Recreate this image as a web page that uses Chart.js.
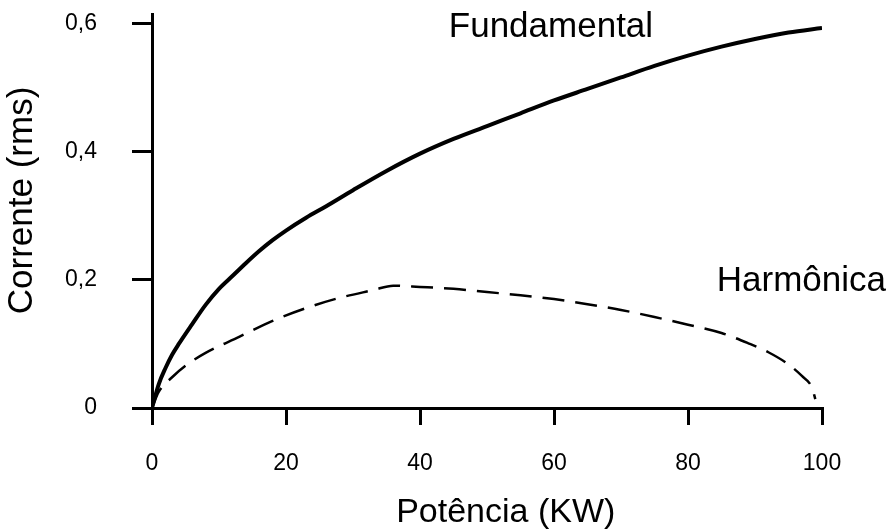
<!DOCTYPE html>
<html>
<head>
<meta charset="utf-8">
<script src="https://cdn.jsdelivr.net/npm/chart.js@4.4.1/dist/chart.umd.min.js"></script>
<style>
  html, body { margin: 0; padding: 0; background: #fff; }
  #wrap { width: 892px; height: 531px; }
</style>
</head>
<body>
<div id="wrap"><canvas id="grafico" width="892" height="531"></canvas></div>
<script>
// potencia (KW) e corrente (rms)
const fundX = [0, 1, 2, 3, 4, 6, 8, 10, 12, 14, 16, 18, 20, 23, 26, 30, 35, 40, 45, 50, 55, 60, 65, 70, 75, 80, 85, 90, 95, 100]
const fundY = [0, 0.037, 0.062, 0.083, 0.1, 0.131, 0.161, 0.186, 0.206, 0.226, 0.245, 0.262, 0.277, 0.297, 0.315, 0.34, 0.37, 0.397, 0.42, 0.44, 0.46, 0.48, 0.498, 0.516, 0.534, 0.55, 0.564, 0.576, 0.586, 0.593]

const harmX = [0, 1, 3, 5, 8, 13, 18, 23, 28, 33, 36, 40, 45, 50, 55, 60, 65, 70, 75, 80, 85, 89, 92, 95, 97, 98.5, 99]
const harmY = [0, 0.025, 0.048, 0.066, 0.086, 0.111, 0.136, 0.156, 0.172, 0.184, 0.191, 0.189, 0.186, 0.181, 0.176, 0.17, 0.162, 0.153, 0.142, 0.13, 0.117, 0.101, 0.087, 0.068, 0.05, 0.032, 0.014]

const xTicks = [0, 20, 40, 60, 80, 100]
const yTicks = [0, 0.2, 0.4, 0.6]

// rotulos das curvas, em coordenadas de dados
const rotulos = [
    { text: 'Fundamental', x: 44.3, y: 0.594 },
    { text: 'Harmônica', x: 84.3, y: 0.197 }
]
const tituloX = 'Potência (KW)'
const tituloXpos = 52.8
const tituloY = 'Corrente (rms)'
const tituloYpos = 0.324

const FONTE = "'Liberation Sans', Arial, sans-serif"

function pontos(xs, ys) {
    return xs.map((x, i) => ({ x: x, y: ys[i] }))
}

const rotulosPlugin = {
    id: 'rotulos',
    afterDatasetsDraw(chart) {
        const ctx = chart.ctx
        const sx = chart.scales.x, sy = chart.scales.y
        ctx.save()
        ctx.fillStyle = '#000'
        ctx.font = `35px ${FONTE}`
        ctx.textAlign = 'left'
        ctx.textBaseline = 'middle'
        rotulos.forEach(r => {
            ctx.fillText(r.text, sx.getPixelForValue(r.x), sy.getPixelForValue(r.y))
        })
        // titulos dos eixos (desenhados a mao pra acertar a posicao do original)
        ctx.font = `34px ${FONTE}`
        ctx.textAlign = 'center'
        ctx.textBaseline = 'alphabetic'
        ctx.fillText(tituloX, sx.getPixelForValue(tituloXpos), sx.bottom - 9)

        ctx.translate(sy.left + 22, sy.getPixelForValue(tituloYpos))
        ctx.rotate(-Math.PI / 2)
        ctx.font = `35px ${FONTE}`
        ctx.textBaseline = 'middle'
        ctx.fillText(tituloY, 0, 0)
        ctx.restore()
    }
}

const config = {
    type: 'scatter',
    data: {
        datasets: [{
            label: 'Fundamental',
            data: pontos(fundX, fundY),
            showLine: true,
            borderColor: '#000',
            borderWidth: 4,
            pointRadius: 0,
            cubicInterpolationMode: 'monotone'
        }, {
            label: 'Harmônica',
            data: pontos(harmX, harmY),
            showLine: true,
            borderColor: '#000',
            borderWidth: 2.5,
            borderDash: [22, 11],
            pointRadius: 0,
            cubicInterpolationMode: 'monotone'
        }]
    },
    options: {
        responsive: false,
        animation: false,
        layout: { padding: { top: 14, right: 70, left: 0, bottom: 0 } },
        plugins: {
            legend: { display: false },
            tooltip: { enabled: false }
        },
        scales: {
            x: {
                type: 'linear',
                min: 0,
                max: 100,
                afterBuildTicks: s => { s.ticks = xTicks.map(v => ({ value: v })) },
                afterFit: s => { s.height = 123 },
                border: { display: true, color: '#000', width: 3 },
                grid: { drawOnChartArea: false, drawTicks: true, tickLength: 17, color: '#000', lineWidth: 3 },
                ticks: {
                    color: '#000',
                    font: { family: FONTE, size: 23 },
                    padding: 25,
                    maxRotation: 0
                }
            },
            y: {
                type: 'linear',
                min: 0,
                max: 0.615,
                afterBuildTicks: s => { s.ticks = yTicks.map(v => ({ value: v })) },
                afterFit: s => {
                    s.width = 152
                    s.paddingTop = 0
                    s.paddingBottom = 0
                },
                border: { display: true, color: '#000', width: 3 },
                grid: { drawOnChartArea: false, drawTicks: true, tickLength: 20, color: '#000', lineWidth: 3 },
                ticks: {
                    color: '#000',
                    font: { family: FONTE, size: 23 },
                    padding: 35,
                    callback: v => v === 0 ? '0' : v.toFixed(1).replace('.', ',')
                }
            }
        }
    },
    plugins: [rotulosPlugin]
}

const grafico = new Chart(document.getElementById('grafico'), config)
</script>
</body>
</html>
